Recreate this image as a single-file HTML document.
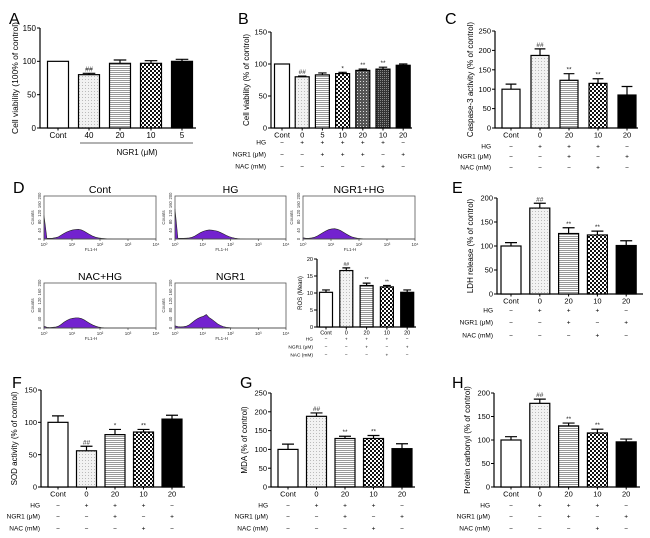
<!DOCTYPE html>
<html><head><meta charset="utf-8"><style>
html,body{margin:0;padding:0;background:#fff;}
svg{display:block;font-family:"Liberation Sans",sans-serif;}
</style></head><body>
<svg id="fig" width="650" height="538" viewBox="0 0 650 538" xmlns="http://www.w3.org/2000/svg">
<defs>
<pattern id="pDots" width="3" height="3" patternUnits="userSpaceOnUse"><rect width="3" height="3" fill="#f2f2f2"/><rect x="1" y="1" width="1" height="1" fill="#bbb"/></pattern>
<pattern id="pLines" width="3" height="2" patternUnits="userSpaceOnUse"><rect width="3" height="2" fill="#fff"/><rect width="3" height="1" fill="#999"/></pattern>
<pattern id="pCheck" width="4" height="4" patternUnits="userSpaceOnUse"><rect width="4" height="4" fill="#fff"/><rect width="2" height="2" fill="#111"/><rect x="2" y="2" width="2" height="2" fill="#111"/></pattern>
<pattern id="pDark" width="3" height="3" patternUnits="userSpaceOnUse"><rect width="3" height="3" fill="#555"/><rect width="1" height="1" fill="#ddd"/></pattern>
<pattern id="pDarker" width="2" height="2" patternUnits="userSpaceOnUse"><rect width="2" height="2" fill="#333"/><rect width="1" height="1" fill="#888"/></pattern>
</defs>
<g id="root"></g>
</svg>
<script>
// ---------- data ----------
const catA = ["Cont","40","20","10","5"];
const valA = [100,80,97,97,100];
const errA = [0,2,5,4,3];
const sigA = ["","##","","",""];

const catB = ["Cont","0","5","10","20","10","20"];
const valB = [100,80,83,85,90,92,98];
const errB = [0,1,3,2,2,3,2];
const sigB = ["","##","","*","**","**",""];
const hgB = ["−","+","+","+","+","+","−"];
const ngB = ["−","−","+","+","+","−","+"];
const nacB = ["−","−","−","−","−","+","−"];

const cat5 = ["Cont","0","20","10","20"];
const hg5 = ["−","+","+","+","−"];
const ng5 = ["−","−","+","−","+"];
const nac5 = ["−","−","−","+","−"];

const valC = [100,187,123,115,85];
const errC = [13,17,17,12,22];
const sigC = ["","##","**","**",""];

const valROS = [10.2,16.6,12.2,11.8,10.2];
const errROS = [0.7,0.8,0.7,0.4,0.7];
const sigROS = ["","##","**","**",""];

const valE = [100,179,126,123,101];
const errE = [7,10,12,8,10];
const sigE = ["","##","**","**",""];

const valF = [100,56,81,85,105];
const errF = [10,7,8,4,6];
const sigF = ["","##","*","**",""];

const valG = [100,188,129,129,102];
const errG = [14,9,6,8,13];
const sigG = ["","##","**","**",""];

const valH = [100,178,130,115,96];
const errH = [7,9,6,8,6];
const sigH = ["","##","**","**",""];

const histTitles = ["Cont","HG","NGR1+HG","NAC+HG","NGR1"];
const histCont = [110,3,3,4,6,10,18,26,33,38,42,44,45,42,36,28,20,13,8,5,3,2,1,1,0,0,0,0,0,0];
const histHG   = [140,4,3,3,4,5,8,14,22,30,36,40,42,41,39,36,30,24,17,11,7,4,2,1,1,0,0,0,0,0];
const histNGR  = [6,3,3,5,8,14,22,30,38,44,47,48,45,40,32,24,16,10,6,3,2,1,0,0,0,0,0,0,0,0];
const histNAC  = [8,3,2,3,4,8,16,26,34,40,43,45,45,42,36,28,20,13,8,4,2,1,0,0,0,0,0,0,0,0];
const histN    = [10,6,5,6,8,14,24,34,42,48,52,60,46,38,28,18,11,6,3,2,1,0,0,0,0,0,0,0,0,0];
const histData = [histCont,histHG,histNGR,histNAC,histN];
const histTicks = ["10⁰","10¹","10²","10³","10⁴"];
const countTicks = [0,40,80,120,160,200];

// ---------- helpers ----------
const NS="http://www.w3.org/2000/svg";
const root=document.getElementById('root');
function mk(tag,attrs,parent,text){const e=document.createElementNS(NS,tag);for(const k in attrs)e.setAttribute(k,attrs[k]);if(text!==undefined)e.textContent=text;(parent||root).appendChild(e);return e;}
function grp(name){const g=mk('g',{});


return g;}

function barPanel(cfg, cats, vals, errs, sigs, rows){
  const g=grp(cfg.name);
  const yS=v=>cfg.y0-(v/cfg.max)*(cfg.y0-cfg.yTop);
  const xS=i=>cfg.c0+i*cfg.dx;
  if(cfg.letter){const t=mk('text',{x:cfg.lx,y:cfg.ly,'font-size':16},g,cfg.letter);
  
  }
  const ax=mk('path',{d:`M${cfg.ax},${cfg.yTop}V${cfg.y0}H${cfg.axEnd}`,stroke:'#000','stroke-width':1.2,fill:'none'},g);
  
  
  for(let v=0;v<=cfg.max;v+=cfg.step){
    const y=yS(v);
    mk('line',{x1:cfg.ax-3,x2:cfg.ax,y1:y,y2:y,stroke:'#000','stroke-width':1},g);
    const t=mk('text',{x:cfg.ax-4,y:y+cfg.fs*0.35,'font-size':cfg.fs,'text-anchor':'end'},g,String(v));
    
    
  }
  const mid=(cfg.y0+cfg.yTop)/2;
  const yt=mk('text',{x:cfg.ax-cfg.titleOff,y:mid,'font-size':cfg.tfs,'text-anchor':'middle',transform:`rotate(-90 ${cfg.ax-cfg.titleOff} ${mid})`},g,cfg.ytitle);
  
  
  const pats=cfg.pats;
  for(let i=0;i<vals.length;i++){
    const cx=xS(i), y=yS(vals[i]), w=(i===0&&cfg.w0)?cfg.w0:cfg.bw;
    const b=mk('rect',{x:cx-w/2,y:y,width:w,height:cfg.y0-y,fill:pats[i],stroke:'#000','stroke-width':1.2},g);
    
    
    if(errs[i]>0){
      const ye=yS(vals[i]+errs[i]);
      mk('path',{d:`M${cx},${y}V${ye}M${cx-w*0.3},${ye}H${cx+w*0.3}`,stroke:'#000','stroke-width':1.2,fill:'none'},g);
    }
    if(sigs[i]){
      const s=mk('text',{x:cx,y:yS(vals[i]+errs[i])-2,'font-size':cfg.sfs,'text-anchor':'middle',fill:'#222'},g,sigs[i]);
      
      
    }
    mk('line',{x1:cx,x2:cx,y1:cfg.y0,y2:cfg.y0+2.5,stroke:'#000','stroke-width':1},g);
    const ct=mk('text',{x:cx,y:cfg.y0+cfg.fs+2,'font-size':cfg.fs,'text-anchor':'middle'},g,cats[i]);
    
    
  }
  if(rows){
    const labels=["HG","NGR1 (μM)","NAC (mM)"];
    rows.forEach((r,ri)=>{
      const ry=cfg.rowY[ri];
      const lt=mk('text',{x:cfg.rowLx,y:ry+cfg.rfs*0.35,'font-size':cfg.rfs,'text-anchor':'end'},g,labels[ri]);
      
      
      r.forEach((s,i)=>{mk('text',{x:xS(i),y:ry+cfg.rfs*0.35,'font-size':cfg.rfs,'text-anchor':'middle'},g,s);});
    });
  }
  return g;
}

const P5=['#fff','url(#pDots)','url(#pLines)','url(#pCheck)','#000'];

const gA=barPanel({name:'panel-a',letter:'A',lx:9,ly:24,ax:40,y0:128,yTop:28,max:150,step:50,axEnd:196,c0:58,dx:31,bw:21,fs:8,tfs:8.5,sfs:7,titleOff:22,ytitle:'Cell viability (100% of control)',pats:P5},catA,valA,errA,sigA,null);
mk('line',{x1:80,x2:193,y1:143,y2:143,stroke:'#666','stroke-width':1},gA);
const ngl=mk('text',{x:137,y:155,'font-size':8,'text-anchor':'middle'},gA,'NGR1 (μM)');



barPanel({name:'panel-b',letter:'B',lx:238,ly:24,ax:271,y0:128,yTop:32,max:150,step:50,axEnd:412,c0:282,dx:20.2,bw:14,w0:15,fs:7.5,tfs:8,sfs:6.5,titleOff:22,ytitle:'Cell viability (% of control)',pats:['#fff','url(#pDots)','url(#pLines)','url(#pCheck)','url(#pDark)','url(#pDarker)','#000'],rowY:[142,154,166],rowLx:266,rfs:6.5},catB,valB,errB,sigB,[hgB,ngB,nacB]);

barPanel({name:'panel-c',letter:'C',lx:445,ly:24,ax:495,y0:128,yTop:31,max:250,step:50,axEnd:638,c0:511,dx:29,bw:18,fs:7.5,tfs:8,sfs:6.5,titleOff:22,ytitle:'Caspase-3 activity (% of control)',pats:P5,rowY:[146,156,167],rowLx:491,rfs:6.5},cat5,valC,errC,sigC,[hg5,ng5,nac5]);

barPanel({name:'panel-e',letter:'E',lx:452,ly:193,ax:497,y0:294,yTop:198,max:200,step:50,axEnd:643,c0:511,dx:28.8,bw:20,fs:7.5,tfs:8,sfs:6.5,titleOff:24,ytitle:'LDH release (% of control)',pats:P5,rowY:[310,322,335],rowLx:493,rfs:6.5},cat5,valE,errE,sigE,[hg5,ng5,nac5]);

barPanel({name:'panel-f',letter:'F',lx:12,ly:388,ax:41,y0:487,yTop:390,max:150,step:50,axEnd:185,c0:58,dx:28.5,bw:20,fs:7.5,tfs:8,sfs:6.5,titleOff:24,ytitle:'SOD activity (% of control)',pats:P5,rowY:[505,516,528],rowLx:40,rfs:6.5},cat5,valF,errF,sigF,[hg5,ng5,nac5]);
barPanel({name:'panel-g',letter:'G',lx:240,ly:388,ax:271,y0:487,yTop:393,max:250,step:50,axEnd:415,c0:288,dx:28.5,bw:20,fs:7.5,tfs:8,sfs:6.5,titleOff:24,ytitle:'MDA (% of control)',pats:P5,rowY:[505,516,528],rowLx:268,rfs:6.5},cat5,valG,errG,sigG,[hg5,ng5,nac5]);
barPanel({name:'panel-h',letter:'H',lx:452,ly:388,ax:494,y0:487,yTop:393,max:200,step:50,axEnd:640,c0:511,dx:28.8,bw:20,fs:7.5,tfs:8,sfs:6.5,titleOff:24,ytitle:'Protein carbonyl (% of control)',pats:P5,rowY:[505,516,528],rowLx:490,rfs:6.5},cat5,valH,errH,sigH,[hg5,ng5,nac5]);

const dl=mk('text',{x:13,y:193,'font-size':16},root,'D');



barPanel({name:'panel-d-ros',letter:'',ax:317,y0:327,yTop:259,max:20,step:5,axEnd:416,c0:326,dx:20.3,bw:13,fs:5.5,tfs:6,sfs:5,titleOff:15,ytitle:'ROS (Mean)',pats:P5,rowY:[339,347,355],rowLx:313,rfs:4.8},cat5,valROS,errROS,sigROS,[hg5,ng5,nac5]);

const boxes=[[44,196,112,43],[175,196,111,43],[303,196,112,43],[44,283,112,45],[175,283,111,45]];
boxes.forEach((bx,k)=>{
  const [x,y,w,h]=bx;
  const g=grp('histogram-'+histTitles[k].toLowerCase().replace(/\+/g,'-'));
  const xS=i=>x+ i*(w/(histData[k].length*1.3));
  const yS=c=>y+h-(c/200)*h;
  const d=histData[k];
  let p=`M${x},${y+h}`;
  d.forEach((c,i)=>{p+=`L${xS(i)},${yS(Math.min(c,200))}`;});
  p+=`L${xS(d.length-1)},${y+h}Z`;
  const hp=mk('path',{d:p,fill:'#7322cf',stroke:'#222','stroke-width':0.6},g);
  
  
  mk('path',{d:`M${x},${y+h}H${x+w}`,stroke:'#222','stroke-width':0.8},g);
  mk('rect',{x:x,y:y,width:w,height:h,fill:'none',stroke:'#555','stroke-width':0.8},g);
  const t=mk('text',{x:x+w/2,y:y-3,'font-size':10.5,'text-anchor':'middle'},g,histTitles[k]);
  
  
  histTicks.forEach((lab,i)=>{
    const tx=x+i*w/4;
    mk('line',{x1:tx,x2:tx,y1:y+h,y2:y+h+2,stroke:'#333','stroke-width':0.6},g);
    mk('text',{x:tx,y:y+h+7,'font-size':4.5,'text-anchor':'middle',fill:'#333'},g,lab);
  });
  mk('text',{x:x+w*0.42,y:y+h+12,'font-size':4.5,'text-anchor':'middle',fill:'#333'},g,'FL1-H');
  countTicks.forEach(c=>{
    const ty=yS(c);
    mk('text',{x:x-3,y:ty,'font-size':4.2,'text-anchor':'middle',fill:'#333',transform:`rotate(-90 ${x-3} ${ty})`},g,String(c));
  });
  mk('text',{x:x-10,y:y+h/2,'font-size':4.5,'text-anchor':'middle',fill:'#333',transform:`rotate(-90 ${x-10} ${y+h/2})`},g,'Counts');
});
</script>
</body></html>
